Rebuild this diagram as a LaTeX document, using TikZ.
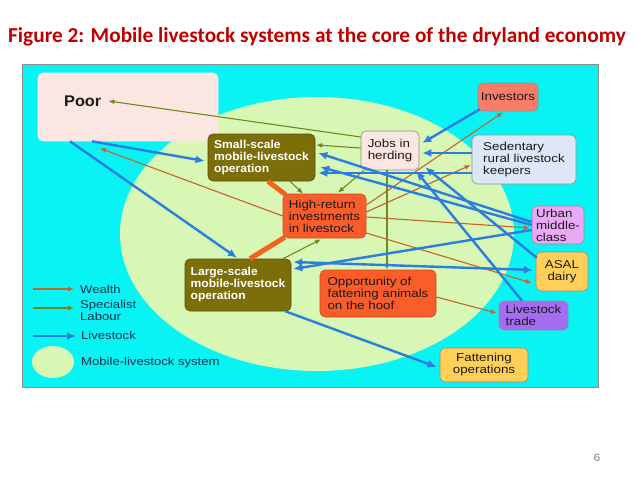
\documentclass[tikz,border=0pt]{standalone}
\usepackage{fontspec}
\newfontfamily\bxfont{Liberation Sans}[FakeStretch=1.16]
\newfontfamily\bdfont{Liberation Sans}[FakeStretch=1.05]
\newfontfamily\ttlfont{Carlito}
\usetikzlibrary{arrows.meta,calc}
\definecolor{bgcyan}{HTML}{08F4F4}
\definecolor{ellgreen}{HTML}{D8F6B4}
\definecolor{olivebox}{HTML}{7C6F0A}
\definecolor{pinkbox}{HTML}{FCE6E2}
\definecolor{salmon}{HTML}{F87C68}
\definecolor{bluebox}{HTML}{DDE7F8}
\definecolor{redbox}{HTML}{FA5C2A}
\definecolor{violetbox}{HTML}{EBA8F6}
\definecolor{yellowbox}{HTML}{FFCF57}
\definecolor{purplebox}{HTML}{A46CF2}
\definecolor{boxline}{HTML}{8E8E8E}
\definecolor{txt}{HTML}{1A1A1A}
\definecolor{legtxt}{HTML}{1B2D4D}
\definecolor{bluearr}{HTML}{2A7DE1}
\definecolor{brownarr}{HTML}{C4642C}
\definecolor{olivearr}{HTML}{6E8A1E}
\definecolor{thickor}{HTML}{F2641E}
\definecolor{titlered}{HTML}{C00000}
\tikzset{
  nbox/.style={rounded corners=5pt, draw=boxline, line width=0.6pt, inner sep=0pt,
    align=left, text=txt, font=\bxfont\fontsize{11.5}{12}\selectfont},
  obox/.style={nbox, fill=olivebox, draw=olivebox!70!black, text=white,
    font=\bdfont\bfseries\fontsize{11.5}{12}\selectfont},
  livestock/.style={draw=bluearr, line width=2.4pt, -{Latex[length=9pt,width=8pt]}},
  livestockboth/.style={draw=bluearr, line width=2.4pt, {Latex[length=9pt,width=8pt]}-{Latex[length=9pt,width=8pt]}},
  wealth/.style={draw=brownarr, line width=1.1pt, -{Latex[length=6pt,width=5pt]}},
  labour/.style={draw=olivearr, line width=1.1pt, -{Latex[length=6pt,width=5pt]}},
  thicklink/.style={draw=thickor, line width=5pt},
  legtext/.style={anchor=west, inner sep=0pt, align=left, text=legtxt,
    font=\bxfont\fontsize{11.3}{12}\selectfont}
}
\begin{document}
\begin{tikzpicture}[x=1pt,y=-1pt]
\useasboundingbox (0,0) rectangle (638,479);
\fill[white] (0,0) rectangle (638,479);
% title
\node[anchor=west, inner sep=0pt, text=titlered, font=\ttlfont\bfseries\fontsize{21.3}{23}\selectfont] (title) at (8,37)
  {Figure 2: Mobile livestock systems at the core of the dryland economy};
% background panel
\fill[bgcyan, draw=boxline, line width=0.8pt] (22,64) rectangle (598,387);
\fill[ellgreen] (317,234) ellipse [x radius=197, y radius=137];
% boxes
\node[nbox, fill=pinkbox, draw=pinkbox, minimum width=180pt, minimum height=68pt] (poor) at (128,107) {};
\node[anchor=west, inner sep=0pt, text=txt, font=\bdfont\bfseries\fontsize{15.5}{16}\selectfont] (poortxt) at (64,101) {Poor};
\node[obox, minimum width=107pt, minimum height=47pt] (small) at (261.5,157.5) {Small-scale\\mobile-livestock\\operation};
\node[nbox, fill=pinkbox, minimum width=58pt, minimum height=39pt] (jobs) at (390,150.5) {Jobs in\\herding};
\node[nbox, fill=salmon, minimum width=60pt, minimum height=28pt] (inv) at (508,97) {Investors};
\node[nbox, fill=bluebox, minimum width=104pt, minimum height=49pt] (sed) at (524,159.5) {Sedentary\\rural livestock\\keepers};
\node[nbox, fill=redbox, draw=redbox!80!black, minimum width=83pt, minimum height=44pt] (high) at (324.5,216) {High-return\\investments\\in livestock};
\node[nbox, fill=violetbox, minimum width=52pt, minimum height=38pt] (urban) at (558,225) {Urban\\middle-\\class};
\node[nbox, fill=yellowbox, align=center, minimum width=52pt, minimum height=39pt] (asal) at (562,271.5) {ASAL\\dairy};
\node[obox, minimum width=106pt, minimum height=52pt] (large) at (238,285) {Large-scale\\mobile-livestock\\operation};
\node[nbox, fill=redbox, draw=redbox!80!black, minimum width=116pt, minimum height=47pt] (opp) at (378,293.5) {Opportunity of\\fattening animals\\on the hoof};
\node[nbox, fill=purplebox, minimum width=69pt, minimum height=29pt] (lt) at (533.5,315.5) {Livestock\\trade};
\node[nbox, fill=yellowbox, align=center, minimum width=88pt, minimum height=34pt] (fat) at (484,365) {Fattening\\operations};
% thick links
\draw[thicklink] ([xshift=6.5pt]small.south) -- ([xshift=3pt,yshift=-1pt]high.north west);
\draw[thicklink] ([xshift=2pt,yshift=1pt]high.south west) -- ([xshift=12pt]large.north);
% labour
\draw[labour] ([yshift=13.5pt]jobs.west) -- ([xshift=7pt]poortxt.east);
\draw[labour] ([yshift=2.5pt]jobs.west) -- ([xshift=1pt,yshift=12.5pt]small.east);
\draw[labour] ([xshift=-26pt]jobs.south) -- ([xshift=13.5pt,yshift=1pt]high.north);
\draw[labour] ([xshift=-3pt]jobs.south) -- ([xshift=9pt]opp.north);
\draw[labour] ([xshift=28.5pt]small.south) -- ([xshift=-21.5pt]high.north);
\draw[labour] ([xshift=45pt]large.north) -- ([xshift=-3.5pt,yshift=-1pt]high.south);
% wealth
\draw[wealth] (high.west) -- ([xshift=-28pt,yshift=-7pt]poor.south);
\draw[wealth] ([yshift=11pt]high.east) -- ([xshift=-5pt,yshift=-1pt]inv.south);
\draw[wealth] ([yshift=4pt]high.east) -- ([xshift=-1pt,yshift=-5.5pt]sed.west);
\draw[wealth] ([yshift=-1pt]high.east) -- ([xshift=-2pt,yshift=-3pt]urban.west);
\draw[wealth] ([yshift=-17pt]high.east) -- ([xshift=-4pt,yshift=-11.5pt]asal.west);
\draw[wealth] ([yshift=-3.5pt]opp.east) -- ([xshift=-2pt,yshift=2.5pt]lt.west);
% livestock
\draw[livestock] ([xshift=-36pt]poor.south) -- ([xshift=-3pt,yshift=-3.5pt]small.west);
\draw[livestock] ([xshift=-58pt]poor.south) -- ([xshift=-1pt,yshift=1pt]large.north);
\draw[livestock] ([xshift=2pt,yshift=2pt]inv.south west) -- ([xshift=3pt,yshift=7.5pt]jobs.east);
\draw[livestock] ([yshift=6.5pt]sed.west) -- ([xshift=3pt,yshift=-2.5pt]jobs.east);
\draw[livestock] ([yshift=-13.5pt]sed.west) -- ([xshift=3pt,yshift=-15.5pt]small.east);
\draw[livestock] ([yshift=3pt]urban.west) -- ([xshift=3pt,yshift=4.5pt]small.east);
\draw[livestock] (urban.west) -- ([xshift=5pt,yshift=-9.5pt]small.east);
\draw[livestock] ([xshift=1pt,yshift=-6pt]asal.north west) -- ([xshift=6pt,yshift=3pt]jobs.south east);
\draw[livestock] ([xshift=-11.5pt]lt.north) -- ([xshift=-3pt,yshift=-1pt]jobs.south east);
\draw[livestock] ([yshift=-5pt]urban.west) -- ([xshift=2pt,yshift=16pt]large.east);
\draw[livestockboth] ([xshift=2pt,yshift=23pt]large.east) -- ([xshift=-3pt,yshift=1.5pt]asal.west);
\draw[livestock] ([xshift=-6pt]large.south east) -- ([xshift=-3pt,yshift=-2pt]fat.west);
% legend
\coordinate (lw1) at (33,289); \coordinate (lw2) at (74,289);
\coordinate (ll1) at (33,308); \coordinate (ll2) at (74,308);
\coordinate (lv1) at (33,336); \coordinate (lv2) at (76,336);
\draw[wealth] (lw1) -- (lw2);
\draw[labour] (ll1) -- (ll2);
\draw[livestock] (lv1) -- (lv2);
\fill[ellgreen] (53,362) ellipse [x radius=21, y radius=16];
\node[legtext] (legw) at (80,289) {Wealth};
\node[legtext] (legl) at (80,310) {Specialist\\Labour};
\node[legtext] (legv) at (81,335) {Livestock};
\node[legtext] (lege) at (81,363) {Mobile-livestock system};
% page number
\node[text=gray, font=\bxfont\fontsize{10.5}{12}\selectfont] (pnum) at (597,458) {6};
\end{tikzpicture}
\end{document}
